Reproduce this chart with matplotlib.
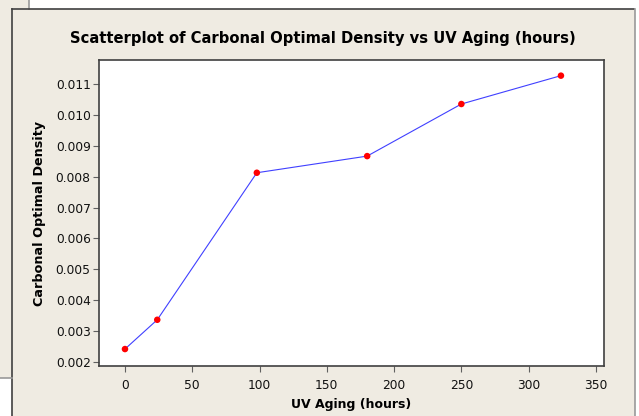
import matplotlib
matplotlib.use("Agg")
import matplotlib.pyplot as plt
from matplotlib.lines import Line2D
from matplotlib.patches import Rectangle

uv_hours = [0, 24, 98, 180, 250, 324]
density = [0.00241, 0.00336, 0.00813, 0.00867, 0.01036, 0.01128]
x_ticks = [0, 50, 100, 150, 200, 250, 300, 350]
y_ticks = [0.002, 0.003, 0.004, 0.005, 0.006, 0.007, 0.008, 0.009, 0.010, 0.011]

W, H = 639, 416
bg = "#efebe2"

fig = plt.figure(figsize=(W / 100, H / 100), dpi=100, facecolor=bg)

# screenshot leftovers around the graph window
def px(x, y):
    return x / W, 1 - y / H

fig.patches.append(Rectangle(px(29, 9), (W - 29) / W, 9 / H, transform=fig.transFigure,
                             facecolor="white", edgecolor="none"))
fig.patches.append(Rectangle(px(635, H), (W - 635) / W, 1, transform=fig.transFigure,
                             facecolor="white", edgecolor="none"))
fig.patches.append(Rectangle(px(0, H), 12 / W, (H - 378) / H, transform=fig.transFigure,
                             facecolor="white", edgecolor="none"))
for (x0, y0), (x1, y1), c in [
    ((28.5, 0), (28.5, 9), "#999999"),
    ((12, 9), (634, 9), "#404040"),
    ((12, 9), (12, H), "#404040"),
    ((634.5, 9), (634.5, H), "#999999"),
    ((0, 378), (12, 378), "#999999"),
]:
    a, b = px(x0, y0)
    c2, d = px(x1, y1)
    fig.lines.append(Line2D([a, c2], [b, d], transform=fig.transFigure, color=c, lw=1.2))

ax = fig.add_axes([99 / W, 1 - 366 / H, (604 - 99) / W, (366 - 60) / H])
ax.set_facecolor("white")
ax.plot(uv_hours, density, color="#4040ff", lw=0.8, zorder=2)
ax.scatter(uv_hours, density, color="red", s=22, zorder=3, edgecolors="none")

ax.set_xlim(-19.3, 356)
ax.set_ylim(0.00186, 0.011788)
ax.set_xticks(x_ticks)
ax.set_yticks(y_ticks)
ax.set_yticklabels([f"{v:.3f}" for v in y_ticks])

for s in ax.spines.values():
    s.set_color("#404040")
    s.set_linewidth(1.2)
ax.tick_params(direction="out", length=4, width=0.8, color="#606060",
               labelsize=8.8, labelcolor="#111111", pad=2)
ax.tick_params(axis="x", pad=5.5)

ax.set_xlabel("UV Aging (hours)", fontsize=9, fontweight="bold", labelpad=4.5)
ax.set_ylabel("Carbonal Optimal Density", fontsize=9.2, fontweight="bold", labelpad=7)
fig.text(323 / W, 1 - 38 / H, "Scatterplot of Carbonal Optimal Density vs UV Aging (hours)",
         ha="center", va="center", fontsize=10.6, fontweight="bold")

fig.savefig("out.png", dpi=100, facecolor=bg)
